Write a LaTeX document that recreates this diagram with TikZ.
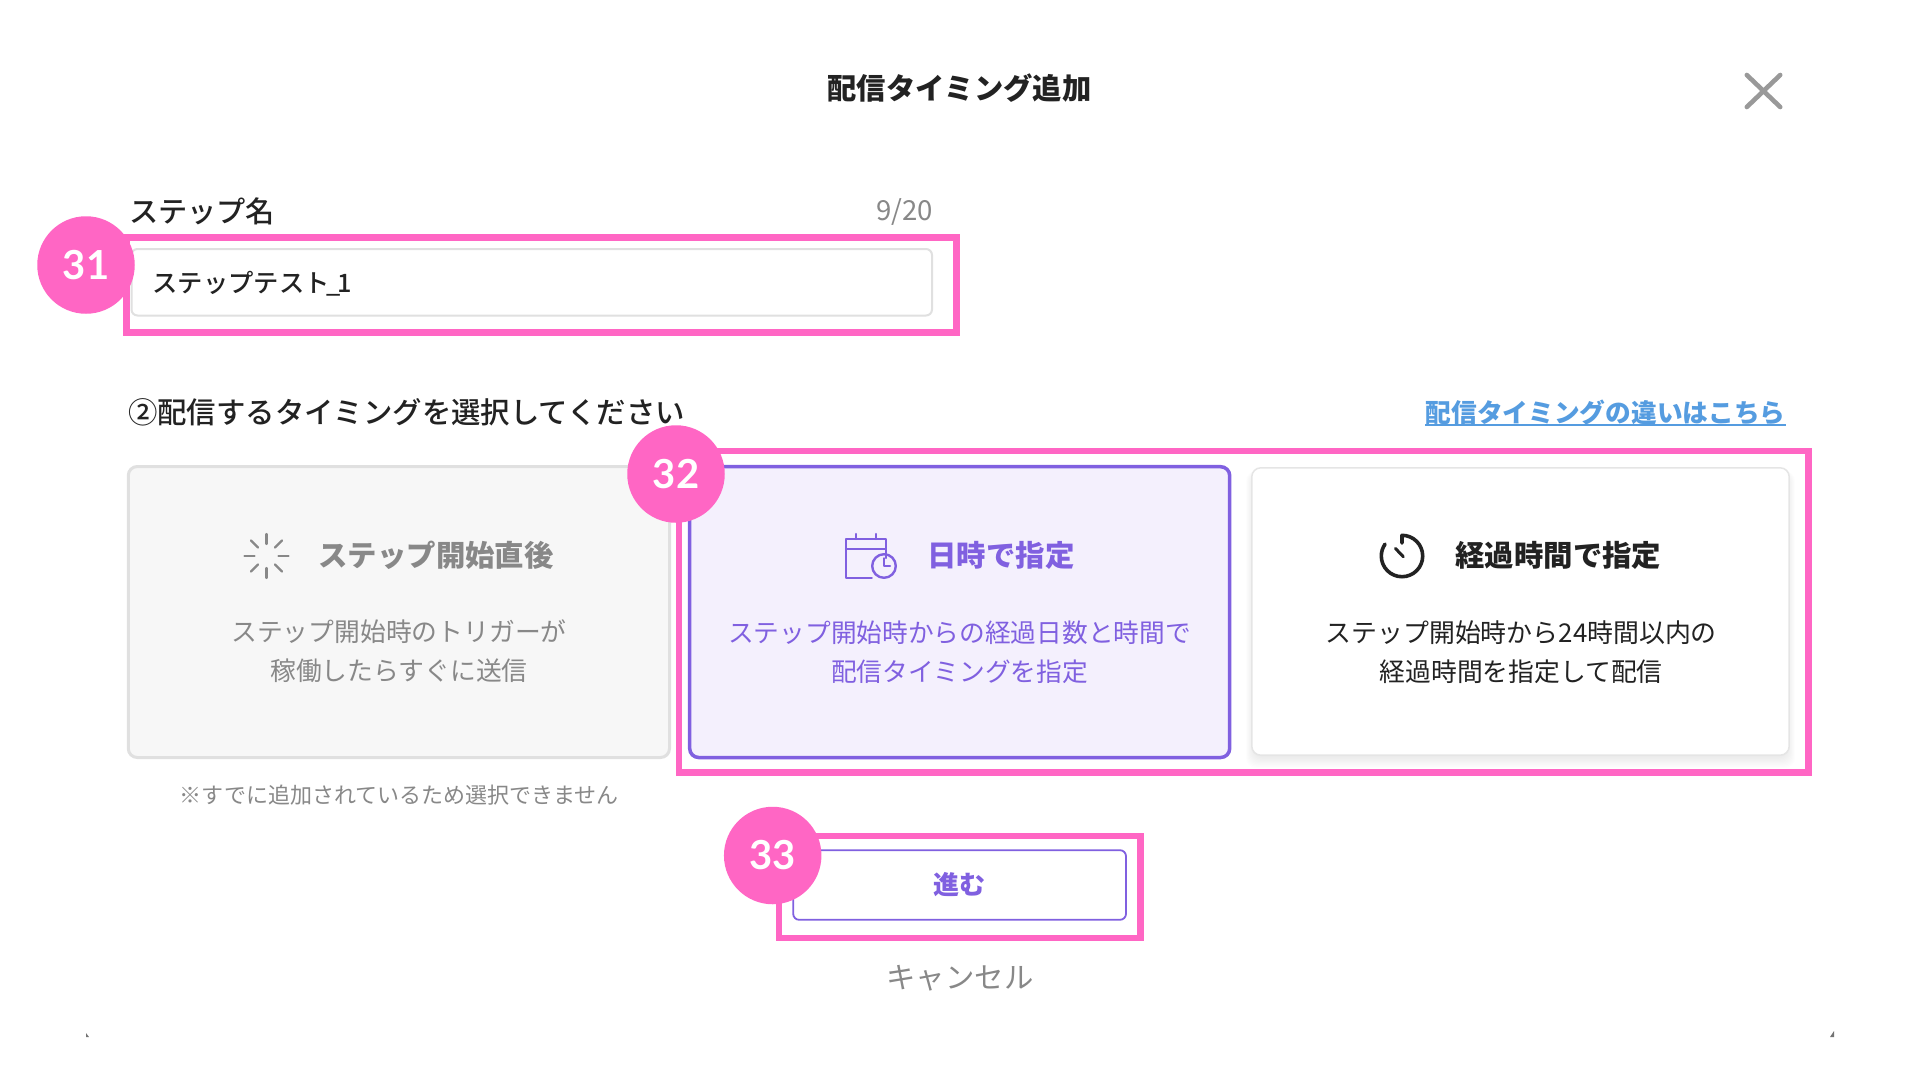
\documentclass[tikz,border=0pt]{standalone}
\usepackage{fontspec}
\setmainfont{Noto Sans CJK JP}
\newfontfamily\medfont{Noto Sans CJK JP Medium}
\newfontfamily\badgefont{Lato}
\definecolor{pinkc}{HTML}{FF66C4}
\definecolor{purplec}{HTML}{8060E0}
\definecolor{purplefill}{HTML}{F4F0FD}
\definecolor{inkc}{HTML}{222222}
\definecolor{greyt}{HTML}{888888}
\definecolor{linkc}{HTML}{559CE0}
\newcommand{\fs}[1]{\fontsize{#1}{#1}\selectfont}
\tikzset{
  x=1pt,y=-1pt,
  txt/.style={inner sep=0pt,outer sep=0pt,anchor=center,align=center,text=inkc},
  highlight/.style={draw=pinkc,line width=6.5pt,fill=none},
  badge/.style={circle,fill=pinkc,minimum size=97.5pt,inner sep=0pt,text=white,font=\badgefont\bfseries\fs{40}},
  card/.style={rounded corners=9pt},
  iconline/.style={line width=2.4pt,line cap=round,line join=round},
}
\begin{document}
\begin{tikzpicture}
\useasboundingbox (0,0) rectangle (1920,1080);
\fill[white] (0,0) rectangle (1920,1080);
% title
\node[txt,font=\bfseries\fs{29.3}] (title) at (959.5,88.5) {配信タイミング追加};
\draw[draw=black!40,line width=4.6pt,line cap=round] (1746.8,75) -- (1780.2,107) (1780.2,75) -- (1746.8,107);
% step name
\node[txt,anchor=west,font=\medfont\fs{29.2}] (stepname) at (129,211) {ステップ名};
\node[txt,anchor=east,text=greyt,font=\fs{27.6}] (count) at (933,212) {9/20};
\draw[draw=black!12,line width=2pt,rounded corners=6pt,fill=white] (131.5,249) rectangle (932,315.5);
\node[txt,anchor=west,font=\medfont\fs{25.3}] (stepval) at (152.5,284) {ステップテスト\kern-3pt\_\kern-3pt 1};
\draw[highlight] (126.3,237.3) rectangle (956.7,332.5);
% second heading
\node[txt,anchor=west,font=\medfont\fs{29.4}] (q2) at (128,412) {②配信するタイミングを選択してください};
\node[txt,anchor=east,text=linkc,font=\bfseries\fs{25.7}] (link) at (1785.5,412) {配信タイミングの違いはこちら};
\draw[linkc,line width=1.6pt] (1425,425) -- (1786,425);
% card 1
\draw[card,draw=black!12,fill=black!3,line width=3pt] (128.3,466.5) rectangle (669.5,757.5);
\foreach \a in {0,45,...,315}{
  \draw[greyt,line width=2.2pt,line cap=round] (266.5,556) ++(\a:12) -- ++(\a:10);
}
\node[txt,text=greyt,font=\bfseries\fs{29.4}] (c1t) at (436,555.5) {ステップ開始直後};
\node[txt,text=greyt,font=\fs{25.8}] (c1a) at (399,632) {ステップ開始時のトリガーが};
\node[txt,text=greyt,font=\fs{25.8}] (c1b) at (399,671) {稼働したらすぐに送信};
\node[txt,text=greyt,font=\fs{22}] (note) at (399.3,795) {※すでに追加されているため選択できません};
% card 3
\foreach \i in {1,...,10}{
  \fill[black,opacity=0.009,rounded corners=10pt] (1254-.8*\i,474-.3*\i) rectangle (1787+.8*\i,756+1.2*\i);
}
\draw[card,draw=black!10,fill=white,line width=1.5pt] (1251.8,467.8) rectangle (1789.2,755.2);
\draw[inkc,line width=3.6pt,line cap=round,line join=round] (1402,543) -- (1402,535.3) arc[start angle=270,end angle=575,radius=20.7];
\draw[inkc,line width=3pt,line cap=round] (1403.3,556.7) -- (1395.5,548.5);
\node[txt,font=\bfseries\fs{29.4}] (c3t) at (1558.3,555) {経過時間で指定};
\node[txt,font=\fs{25.9}] (c3a) at (1521.2,632.7) {ステップ開始時から24時間以内の};
\node[txt,font=\fs{25.8}] (c3b) at (1521.2,671.7) {経過時間を指定して配信};
% card 2
\draw[card,draw=purplec,fill=purplefill,line width=3.5pt] (689.7,466.7) rectangle (1229.7,757.5);
\draw[purplec,iconline] (885.7,558) -- (885.7,539) -- (846,539) -- (846,577.7) -- (871.7,577.7)
  (846,549) -- (885.7,549) (855.7,534) -- (855.7,539) (875.7,534) -- (875.7,539);
\draw[purplec,iconline] (884,566) circle[radius=11.8];
\draw[purplec,iconline] (884,558.3) -- (884,566) -- (890,566);
\node[txt,text=purplec,font=\bfseries\fs{29.4}] (c2t) at (1001,555.5) {日時で指定};
\node[txt,text=purplec,font=\fs{25.7}] (c2a) at (959.5,632.7) {ステップ開始時からの経過日数と時間で};
\node[txt,text=purplec,font=\fs{25.7}] (c2b) at (959.5,671.7) {配信タイミングを指定};
\draw[highlight] (679.2,451.2) rectangle (1808.5,772.5);
% button
\draw[purplec,line width=1.8pt,rounded corners=6pt,fill=white] (793.2,850.2) rectangle (1126,919.8);
\node[txt,text=purplec,font=\bfseries\fs{26}] (next) at (959.5,885) {進む};
\draw[highlight] (779.2,836) rectangle (1140.5,937.8);
\node[txt,text=greyt,font=\fs{29.4}] (cancel) at (960,978) {キャンセル};
% corner remnants
\fill[black!55] (86,1033) -- (86,1037) -- (89,1037) -- cycle;
\fill[black!55] (1834,1031) -- (1834,1037) -- (1830,1037) -- cycle;
% badges
\node[badge] (b31) at (86,265) {31};
\node[badge] (b32) at (676,474) {32};
\node[badge] (b33) at (772.7,855.5) {33};
\end{tikzpicture}
\end{document}
